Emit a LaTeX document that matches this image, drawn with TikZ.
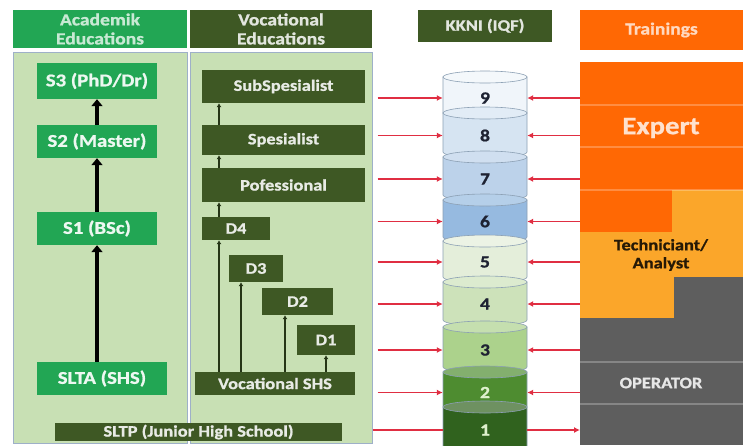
\documentclass[tikz,border=0pt]{standalone}
\usepackage{fontspec}
\setmainfont{Carlito}[FakeStretch=1.15,BoldFeatures={FakeBold=1}]
\usetikzlibrary{arrows.meta}
\definecolor{acgreen}{RGB}{34,166,84}
\definecolor{vocgreen}{RGB}{62,88,36}
\definecolor{panelgreen}{RGB}{200,224,180}
\definecolor{panelline}{RGB}{158,176,200}
\definecolor{kred}{RGB}{224,46,66}
\definecolor{orangeA}{RGB}{255,104,4}
\definecolor{orangeB}{RGB}{251,166,42}
\definecolor{greyop}{RGB}{94,94,94}
\definecolor{cylline}{RGB}{140,160,180}
\definecolor{lvnine}{RGB}{240,245,250}
\definecolor{lveight}{RGB}{214,228,242}
\definecolor{lvseven}{RGB}{188,210,234}
\definecolor{lvsix}{RGB}{150,186,224}
\definecolor{lvfive}{RGB}{228,238,218}
\definecolor{lvfour}{RGB}{205,226,186}
\definecolor{lvthree}{RGB}{172,210,140}
\definecolor{lvtwo}{RGB}{78,140,48}
\definecolor{lvone}{RGB}{48,98,30}
\definecolor{darktxt}{RGB}{30,34,50}
\definecolor{lighttxt}{RGB}{222,240,205}
\begin{document}
\begin{tikzpicture}[x=1pt,y=1pt,yscale=-1,
  headbox/.style={rectangle,inner sep=0pt,align=center,font=\bfseries\fontsize{17}{19}\selectfont},
  panel/.style={rectangle,inner sep=0pt,fill=panelgreen,draw=panelline,line width=1pt},
  acbox/.style={rectangle,inner sep=0pt,fill=acgreen,text=white!92!acgreen,font=\bfseries\fontsize{18}{19}\selectfont},
  vocbox/.style={rectangle,inner sep=0pt,fill=vocgreen,text=white!88!vocgreen,font=\bfseries\fontsize{16}{17}\selectfont},
  lvlnode/.style={rectangle,inner sep=0pt,minimum width=84,minimum height=30,font=\bfseries\fontsize{17}{18}\selectfont},
  fatarrow/.style={line width=3.5pt,-{Triangle[length=7pt,width=11pt]}},
  slimarrow/.style={draw=vocgreen!60!black,line width=1.8pt,-{Latex[length=4pt,width=5pt]}},
  redarrow/.style={draw=kred,line width=1.5pt,-{Latex[length=6pt,width=6pt]}},
  traintext/.style={align=center,font=\bfseries\fontsize{17}{18}\selectfont}]
\useasboundingbox (0,0) rectangle (743,445);
\fill[white] (0,0) rectangle (743,445);

% headers
\node[headbox,fill=acgreen,text=acgreen!25!white,minimum width=174,minimum height=38] (acadhead) at (100,29) {Academik\\Educations};
\node[headbox,fill=vocgreen,text=vocgreen!15!white,minimum width=182,minimum height=38] (vochead) at (281,29) {Vocational\\Educations};
\node[headbox,fill=vocgreen,text=vocgreen!15!white,minimum width=134,minimum height=32,font=\bfseries\fontsize{16}{17}\selectfont] (kknihead) at (485,26) {KKNI (IQF)};
\node[headbox,fill=orangeA,text=orangeA!25!white,minimum width=163,minimum height=40] (trainhead) at (661.5,30) {Trainings};

% panels
\node[panel,minimum width=174,minimum height=391] (acadpanel) at (100,247.5) {};
\node[panel,minimum width=182,minimum height=391] (vocpanel) at (281,247.5) {};

% academic track
\node[acbox,minimum width=120,minimum height=36] (s3) at (97,81) {S3 (PhD/Dr)};
\node[acbox,minimum width=120,minimum height=33] (s2) at (97,141.5) {S2 (Master)};
\node[acbox,minimum width=120,minimum height=33] (s1) at (97,228.5) {S1 (BSc)};
\node[acbox,minimum width=130,minimum height=33] (slta) at (102,378.5) {SLTA (SHS)};
\draw[fatarrow] (s2) -- (s3);
\draw[fatarrow] (s1) -- (s2);
\draw[fatarrow] (slta.north -| s1.south) -- (s1);

% vocational track
\node[vocbox,minimum width=163,minimum height=33] (subspes) at (283.5,86.5) {SubSpesialist};
\node[vocbox,minimum width=163,minimum height=30] (spes) at (283.5,140) {Spesialist};
\node[vocbox,minimum width=163,minimum height=34] (pof) at (283.5,185) {Pofessional};
\node[vocbox,minimum width=68,minimum height=23] (d4) at (236,228.5) {D4};
\node[vocbox,minimum width=54,minimum height=27] (d3) at (256,268.5) {D3};
\node[vocbox,minimum width=71,minimum height=27] (d2) at (297.5,301.5) {D2};
\node[vocbox,minimum width=58,minimum height=30] (d1) at (326,340) {D1};
\node[vocbox,minimum width=160,minimum height=23] (vshs) at (275,383.5) {Vocational SHS};
\node[vocbox,minimum width=287,minimum height=18,font=\bfseries\fontsize{16}{17}\selectfont] (sltp) at (198.5,432) {SLTP (Junior High School)};

\coordinate (colA) at (219,0);
\coordinate (colB) at (241,0);
\coordinate (colC) at (285,0);
\draw[slimarrow] (vshs.north -| colA) -- (d4.south -| colA);
\draw[slimarrow] (d4.north -| colA) -- (pof.south -| colA);
\draw[slimarrow] (pof.north -| colA) -- (spes.south -| colA);
\draw[slimarrow] (spes.north -| colA) -- (subspes.south -| colA);
\draw[slimarrow] (vshs.north -| colB) -- (d3.south -| colB);
\draw[slimarrow] (vshs.north -| colC) -- (d2.south -| colC);
\draw[slimarrow] (vshs.north -| d1.south) -- (d1);

% trainings
\fill[orangeA] (580,62) rectangle (743,190);
\fill[orangeA] (580,190) rectangle (672,232);
\fill[orangeB] (672,190) rectangle (743,232);
\fill[orangeB] (580,232) rectangle (743,318);
\fill[greyop] (674,277) rectangle (743,318);
\fill[greyop] (580,318) rectangle (743,445);
\draw[white,opacity=.25,line width=1.2pt] (580,105) -- (743,105) (580,147) -- (743,147) (580,190) -- (743,190);
\draw[white,opacity=.25,line width=1.2pt] (580,362) -- (743,362) (580,404) -- (743,404);
\coordinate (trainedge) at (580,0);
\node[traintext,text=orangeA!20!white,font=\bfseries\fontsize{25}{26}\selectfont] (expert) at (661,128) {Expert};
\node[traintext,text=black!85!orangeB,font=\bfseries\fontsize{16}{18}\selectfont] (techn) at (661,255) {Techniciant/\\Analyst};
\node[traintext,text=white!85!greyop,font=\bfseries\fontsize{16}{17}\selectfont] (operator) at (661,383) {OPERATOR};

% KKNI levels
\foreach \n/\t/\b/\c/\tc in {9/77/113/lvnine/darktxt,8/113/152/lveight/darktxt,7/157/195/lvseven/darktxt,
  6/200/237/lvsix/darktxt,5/241/277/lvfive/darktxt,4/282/320/lvfour/darktxt,3/327/367/lvthree/darktxt,
  2/372/407/lvtwo/lighttxt,1/407/447/lvone/lighttxt}{
  \filldraw[fill=\c,draw=cylline,line width=0.6pt] (443,\t) -- (443,\b) arc[start angle=180,end angle=0,x radius=42,y radius=6] -- (527,\t) -- cycle;
  \filldraw[fill=\c!70!white,draw=cylline,line width=0.6pt] (485,\t) ellipse[x radius=42,y radius=6];
  \node[lvlnode,text=\tc] (lvl\n) at (485,{(\t+\b)/2+3}) {\n};
}

% links to the levels
\foreach \n in {9,8,7,6,5,4,3,2}{
  \draw[redarrow] ([xshift=5pt]vocpanel.east |- lvl\n.west) -- (lvl\n.west);
  \draw[redarrow] (trainedge |- lvl\n.east) -- (lvl\n.east);
}
\draw[draw=kred,line width=1.5pt] (vocpanel.east |- lvl1.west) -- (lvl1.west);
\draw[redarrow] (lvl1.east) -- (trainedge |- lvl1.east);
\end{tikzpicture}
\end{document}
